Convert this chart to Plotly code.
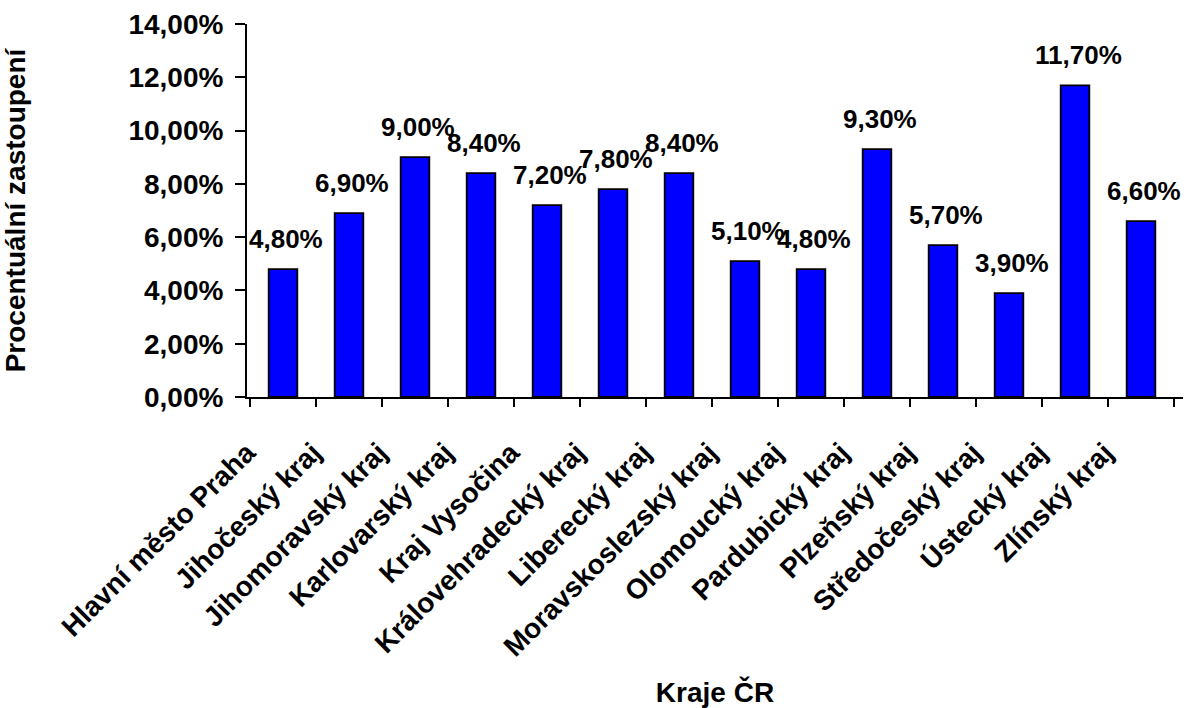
import plotly.graph_objects as go

categories = ["Hlavní město Praha", "Jihočeský kraj", "Jihomoravský kraj", "Karlovarský kraj",
              "Kraj Vysočina", "Královehradecký kraj", "Liberecký kraj", "Moravskoslezský kraj",
              "Olomoucký kraj", "Pardubický kraj", "Plzeňský kraj", "Středočeský kraj",
              "Ústecký kraj", "Zlínský kraj"]
values = [0.048, 0.069, 0.090, 0.084, 0.072, 0.078, 0.084, 0.051, 0.048, 0.093, 0.057, 0.039, 0.117, 0.066]
value_labels = ["4,80%", "6,90%", "9,00%", "8,40%", "7,20%", "7,80%", "8,40%", "5,10%", "4,80%",
                "9,30%", "5,70%", "3,90%", "11,70%", "6,60%"]

FONT = "Liberation Sans"
FS = 28

fig = go.Figure(go.Bar(
    x=categories, y=values,
    marker=dict(color="#0000FF", line=dict(color="black", width=1.8)),
    width=0.434,
))

for c, v, t in zip(categories, values, value_labels):
    fig.add_annotation(x=c, y=v, text=t, showarrow=False, yanchor="bottom", yshift=13, xshift=3,
                       font=dict(family=FONT, size=26, color="black", weight="bold"))

fig.update_layout(
    width=1187, height=708,
    margin=dict(l=247, r=4, t=24, b=311),
    paper_bgcolor="white", plot_bgcolor="white",
    separators=", ",
    showlegend=False,
    font=dict(family=FONT, size=FS, color="black", weight="bold"),
    xaxis=dict(
        title=dict(text="Kraje ČR", font=dict(family=FONT, size=FS, weight="bold"), standoff=22),
        tickangle=-45, showline=True, linecolor="black", linewidth=2,
        ticks="outside", tickson="boundaries", ticklen=8, tickwidth=2, tickcolor="black",
        tickfont=dict(family=FONT, size=FS, weight="bold"),
        ticklabelstandoff=26, ticklabelshift=-36,
        showgrid=False,
    ),
    yaxis=dict(
        title=dict(text="Procentuální zastoupení", font=dict(family=FONT, size=FS, weight="bold"), standoff=100),
        range=[0, 0.14], dtick=0.02, tickformat=".2%",
        showline=True, linecolor="black", linewidth=2,
        ticks="outside", ticklen=10, tickwidth=2, tickcolor="black",
        tickfont=dict(family=FONT, size=FS, weight="bold"),
        ticklabelstandoff=6,
        showgrid=False, zeroline=False,
    ),
)

fig.write_html("out.html")
